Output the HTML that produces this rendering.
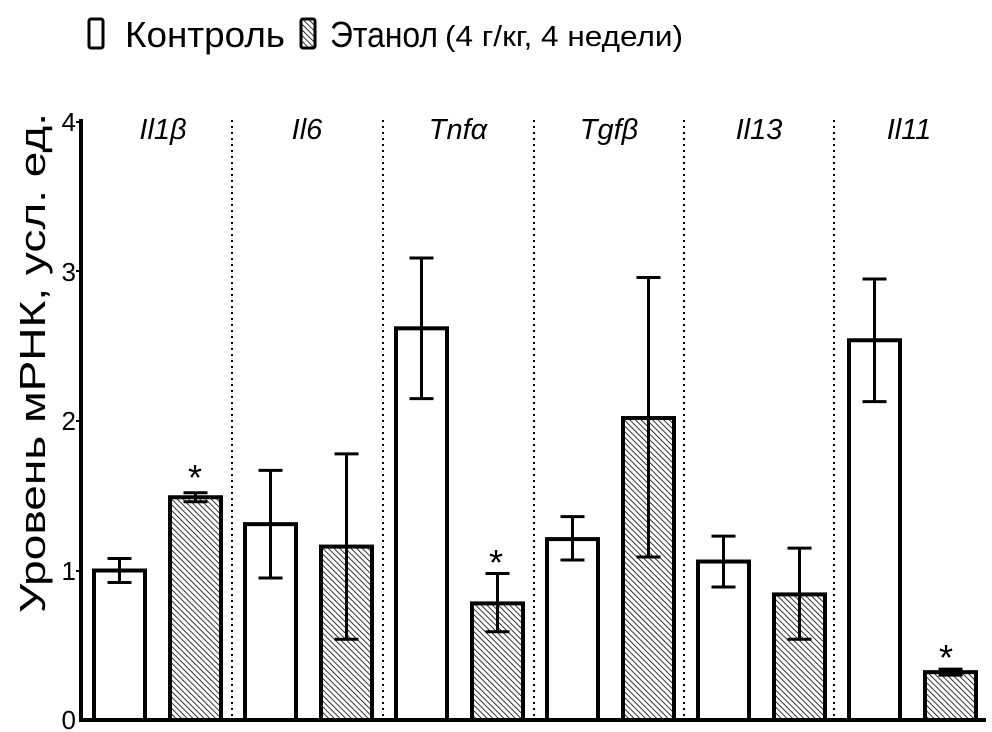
<!DOCTYPE html>
<html><head><meta charset="utf-8"><style>
html,body{margin:0;padding:0;background:#fff;}
svg{display:block;font-family:"Liberation Sans",Arial,sans-serif;}
</style></head><body>
<svg width="992" height="732" viewBox="0 0 992 732" xmlns="http://www.w3.org/2000/svg">
<defs>
<pattern id="h" patternUnits="userSpaceOnUse" width="4" height="4" patternTransform="rotate(-45)">
<rect width="4" height="4" fill="#fff"/><line x1="0" y1="0" x2="0" y2="4" stroke="#000" stroke-width="1.6"/>
</pattern>
</defs>
<!-- legend -->
<rect x="89" y="19" width="14" height="29" fill="#fff" stroke="#000" stroke-width="3" rx="2"/>
<text x="125" y="47" font-size="36" textLength="160" lengthAdjust="spacingAndGlyphs">Контроль</text>
<rect x="301" y="19" width="14" height="29" fill="url(#h)" stroke="#000" stroke-width="3" rx="2"/>
<text x="330" y="47" font-size="36" textLength="108" lengthAdjust="spacingAndGlyphs">Этанол</text>
<text x="445" y="46" font-size="29" textLength="238" lengthAdjust="spacingAndGlyphs">(4 г/кг, 4 недели)</text>
<!-- y label -->
<text transform="translate(45,363) rotate(-90)" text-anchor="middle" font-size="36" textLength="500" lengthAdjust="spacingAndGlyphs">Уровень мРНК, усл. ед.</text>
<!-- axes -->
<line x1="81" y1="119" x2="81" y2="721" stroke="#000" stroke-width="4"/>
<line x1="79" y1="720" x2="986" y2="720" stroke="#000" stroke-width="4"/>
<g stroke="#000" stroke-width="2">
<line x1="76" y1="122" x2="81" y2="122"/><line x1="76" y1="271" x2="81" y2="271"/>
<line x1="76" y1="421" x2="81" y2="421"/><line x1="76" y1="571" x2="81" y2="571"/>
</g>
<g font-size="26" text-anchor="end">
<text x="76" y="131">4</text><text x="76" y="281">3</text><text x="76" y="430">2</text><text x="76" y="580">1</text><text x="76" y="729">0</text>
</g>
<!-- separators -->
<g stroke="#000" stroke-width="2" stroke-dasharray="2,4">
<line x1="232" y1="120" x2="232" y2="718"/><line x1="383" y1="120" x2="383" y2="718"/>
<line x1="534" y1="120" x2="534" y2="718"/><line x1="684" y1="120" x2="684" y2="718"/>
<line x1="834" y1="120" x2="834" y2="718"/>
</g>
<g font-size="29" font-style="italic" text-anchor="middle">
<text x="163" y="139">Il1β</text><text x="307" y="139">Il6</text><text x="458" y="139">Tnfα</text>
<text x="609" y="139">Tgfβ</text><text x="759" y="139">Il13</text><text x="909" y="139">Il11</text>
</g>
<g id="bars" stroke="#000" stroke-width="4"></g>
<g id="err" stroke="#000" stroke-width="3"></g>
<g font-size="36" text-anchor="middle">
<text x="195" y="490">*</text><text x="496" y="575">*</text><text x="946" y="670">*</text>
</g>
</svg>
<script>
var d=[[1.0,.92,1.08,1.49,1.46,1.52],[1.31,.95,1.67,1.16,.54,1.78],[2.62,2.15,3.09,.78,.59,.98],[1.21,1.07,1.36,2.02,1.09,2.96],[1.06,.89,1.23,.84,.54,1.15],[2.54,2.13,2.95,.32,.30,.34]];
function Y(v){return 720-v*149.5;}
var ns="http://www.w3.org/2000/svg",b=document.getElementById('bars'),e=document.getElementById('err');
function el(p,t,a){var n=document.createElementNS(ns,t);for(var k in a)n.setAttribute(k,a[k]);p.appendChild(n);}
d.forEach(function(r,i){
 [[94,0,'#fff'],[170,3,'url(#h)']].forEach(function(s){
  var x=s[0]+151*i,v=r[s[1]],lo=r[s[1]+1],hi=r[s[1]+2],c=x+25.5;
  el(b,'rect',{x:x,y:Y(v),width:51,height:720-Y(v),fill:s[2]});
  el(e,'line',{x1:c,y1:Y(lo),x2:c,y2:Y(hi)});
  el(e,'line',{x1:c-12,y1:Y(lo),x2:c+12,y2:Y(lo)});
  el(e,'line',{x1:c-12,y1:Y(hi),x2:c+12,y2:Y(hi)});
 });
});
</script>
</body></html>
